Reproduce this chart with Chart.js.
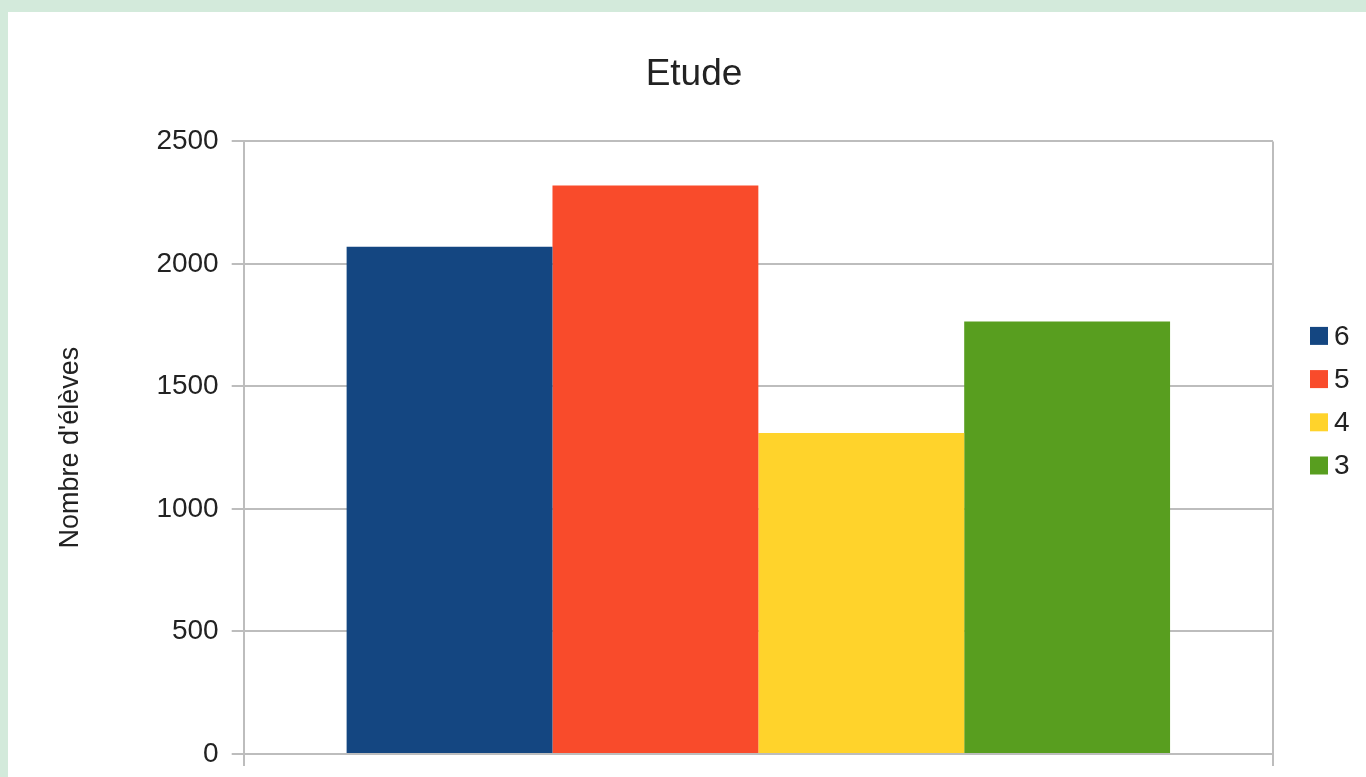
<!DOCTYPE html>
<html>
<head>
<meta charset="utf-8">
<script src="https://cdn.jsdelivr.net/npm/chart.js@4"></script>
<style>
    body { margin: 0; background: #d3eadb; width: 1366px; height: 777px; overflow: hidden; }
    #panel { position: absolute; left: 8px; top: 12px; width: 1358px; height: 765px; background: #fff; }
</style>
</head>
<body>
<div id="panel"><canvas id="etudeChart"></canvas></div>
<script>
const categories = [''];
const seriesNames = ['6', '5', '4', '3'];
const seriesValues = [[2070], [2320], [1310], [1765]];
const seriesColors = ['#144681', '#f94b2b', '#ffd32b', '#589e1f'];
const yTicks = { min: 0, max: 2500, step: 500 };

const font = 'Liberation Sans, Arial, sans-serif';
const gridColor = '#bdbdbd';

// legend drawn by hand so the box/text spacing matches the original
const sideLegend = {
    id: 'sideLegend',
    afterDraw(chart) {
        const c = chart.ctx;
        const area = chart.chartArea;
        const x = area.right + 37;
        c.save();
        c.font = '28px ' + font;
        c.textBaseline = 'middle';
        seriesNames.forEach((name, i) => {
            const y = area.top + 194.5 + i * 43.2;
            c.fillStyle = seriesColors[i];
            c.fillRect(x, y - 9, 18, 18);
            c.fillStyle = '#222';
            c.fillText(name, x + 24, y + 1);
        });
        c.restore();
    }
};

const ctx = document.getElementById('etudeChart').getContext('2d');
const myChart = new Chart(ctx, {
    type: 'bar',
    data: {
        labels: categories,
        datasets: seriesNames.map((name, i) => ({
            label: name,
            data: seriesValues[i],
            backgroundColor: seriesColors[i],
            categoryPercentage: 0.8,
            barPercentage: 1.0
        }))
    },
    options: {
        responsive: true,
        maintainAspectRatio: false,
        animation: false,
        // left/right kept uneven so the title lands where the original has it
        layout: { padding: { left: 107, top: 41, right: 93, bottom: 11 } },
        plugins: {
            title: {
                display: true, text: 'Etude', color: '#222',
                font: { family: font, size: 37, weight: 'normal' },
                padding: { top: 0, bottom: 44 }
            },
            legend: { display: false },
            tooltip: { enabled: false }
        },
        scales: {
            x: {
                grid: { color: gridColor, lineWidth: 2, tickLength: 12, offset: true },
                border: { color: gridColor, width: 2 },
                ticks: { display: false }
            },
            y: {
                min: yTicks.min, max: yTicks.max,
                ticks: {
                    stepSize: yTicks.step, color: '#222', padding: 13,
                    font: { family: font, size: 28 },
                    callback: v => String(v)
                },
                grid: { color: gridColor, lineWidth: 2, tickLength: 12 },
                border: { color: gridColor, width: 2 },
                title: {
                    display: true, text: "Nombre d'élèves", color: '#222',
                    font: { family: font, size: 27 },
                    padding: { top: -61, bottom: 57 }
                },
                // let the "0" label hang below the plot like in the original
                afterFit: scale => { scale.paddingBottom = 0; }
            }
        }
    },
    plugins: [sideLegend]
});
</script>
</body>
</html>
